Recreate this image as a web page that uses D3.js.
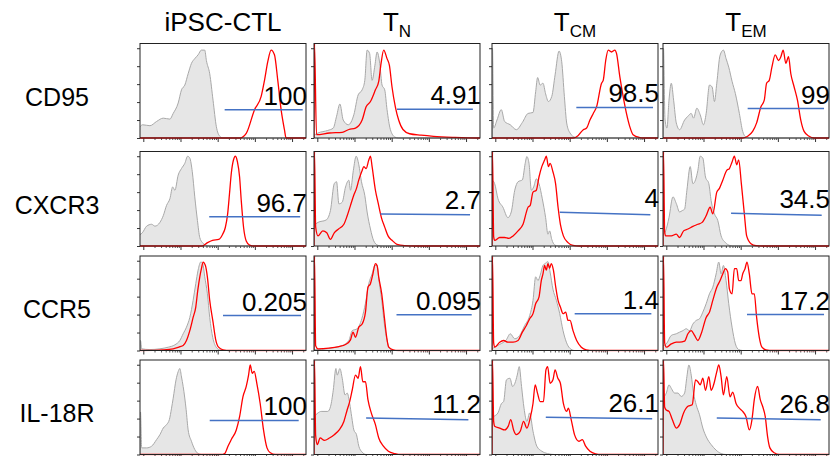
<!DOCTYPE html>
<html>
<head>
<meta charset="utf-8">
<script src="https://cdn.jsdelivr.net/npm/d3@7"></script>
<style>
  body { margin: 0; background: #fff; }
  text { font-family: "Liberation Sans", Arial, sans-serif; fill: #000; }
</style>
</head>
<body>
<svg id="chart" width="837" height="456"></svg>
<script>
// populations (columns) and markers (rows)
var populations = ['iPSC-CTL', 'T_N', 'T_CM', 'T_EM'];
var markers = ['CD95', 'CXCR3', 'CCR5', 'IL-18R'];

// % positive in the gate, one row per marker
var gateLabels = [
  ['100', '4.91', '98.5', '99'],
  ['96.7', '2.7', '4', '34.5'],
  ['0.205', '0.095', '1.4', '17.2'],
  ['100', '11.2', '26.1', '26.8']
];

// gate bars: [x start, x end, height at start, height at end] (axis units, % of mode)
var gates = [
  [[51, 98, 30, 30], [50, 95.7, 30.5, 30.5], [50.8, 97, 32.3, 32.3], [51, 97, 31.2, 31.2]],
  [[41.7, 96.5, 31, 31], [40, 94, 33.9, 33.2], [40.8, 95.4, 35.7, 33.2], [41, 95.6, 34.6, 32.5]],
  [[50, 97, 37, 37], [49.7, 95, 37.8, 37.8], [49.8, 96, 38.9, 38.9], [50.6, 97, 38, 38]],
  [[42, 95.6, 36, 36], [31.4, 93, 38.6, 36.8], [32.4, 96.5, 39.3, 37.9], [32.4, 95, 38.6, 36.8]]
];

// histograms, [fluorescence (0-100 of axis), % of mode]; one entry per population
var cd95Grey = [
  [[0,12],[1.6,14],[6,13],[10,17.5],[14,21],[18,20],[20,26],[23,37],[25,51],[27,56],[29,68],[31,79],[33,84],[35,88],[37,93],[39,93],[40,82],[42,68],[44,40],[46,12],[48,2],[50,0],[100,0]],
  [[0,3],[2.4,5.3],[8.3,8],[11.6,10.5],[13.6,23],[15.6,36],[17.6,19],[20.7,14],[24,24.6],[26.6,45.6],[29,51],[30.6,61],[32,93],[33.5,89.5],[35,61],[36.7,77],[38,91],[39.6,79],[41,56],[42.6,51],[44,30],[46,9],[48.7,1],[50.7,0],[100,0]],
  [[0,0],[0.3,95],[1,10.5],[3,19],[5.6,30],[7.6,17.5],[11,14],[14.7,8.8],[18.3,16.5],[21.7,26],[24.7,27],[26.3,49],[27.5,64],[29,56],[30.7,58],[32.3,46.7],[34,38.6],[36,44],[38,66.7],[40.4,92],[42,80.7],[43.6,44],[45,15.8],[47,5.3],[50,0.7],[52,0],[100,0]],
  [[0,0],[0.3,95],[1.2,20],[2.4,10.5],[3.6,40],[5,58],[6.4,40],[8,16],[10,8.8],[13,19],[15,23],[17,26],[18.4,21],[20.4,31.6],[22.4,24.6],[24.4,14],[26,26],[28,56],[29.6,54],[31,38.6],[32.4,58],[34.4,87.7],[36.4,93],[38,84],[39.6,75],[41.6,60],[43.6,47],[46,26],[48,7],[50,1],[52,0],[100,0]]
];
var cd95Red = [
  [[0,0],[60,0],[64,5],[69,30],[73,44],[75,61],[77,81],[79,93],[81,88],[83,61],[85,30],[87,9],[88,0],[100,0]],
  [[0,0],[0.3,100],[1.5,3.5],[9.3,5.3],[17,6],[21,9],[25,10.5],[29,19],[31.4,33],[34,38.6],[37,51],[39,60],[40.4,79],[42,93],[44,84],[45.4,77],[47,54],[49,33],[51,19],[53.6,9],[57.6,4.5],[64.5,3],[72,1.8],[84,0.7],[98,0],[100,0]],
  [[0,0],[48.8,0],[51.8,2.5],[55,8.8],[57,10.5],[59,19],[61,26],[63,33],[66,58],[67,61],[68.5,82],[70,93],[72,91],[74,93],[75,89.5],[77,65],[79,44],[81,26],[83,12],[85,3.5],[89,0.5],[91,0],[100,0]],
  [[0,0],[48,0],[51,1.8],[54,7],[56.4,16],[59,33],[61,40],[62.4,58],[64,61],[65.6,75],[67.6,88],[69.6,82],[71,86],[72.4,93],[74,79],[75.6,86],[77,68],[79,54],[81,40],[83,19],[85,7],[88,1.8],[91,0],[100,0]]
];
var cxcr3Grey = [
  [[0,12],[1.4,14],[4,21],[7,23],[9,21],[12,25],[14,32],[16,43],[18,50],[19.7,62.5],[21,59],[23,75],[25,82],[27,87.5],[28.7,95],[30,93],[31.5,78.6],[33,52],[34.6,27],[36,9],[37.6,3.6],[39.6,1],[41.7,0],[100,0]],
  [[0,22],[2.4,25],[7.3,27.5],[9.9,37.5],[12.2,66],[13.6,68],[15,44.6],[17,46.4],[19,62.5],[21,69.6],[22,59],[23.7,80],[25.4,95],[27,86],[28.6,68],[30.6,53.6],[32,36],[34,18],[36,5.4],[38.5,0.7],[41,0],[100,0]],
  [[0,70],[1.6,66],[3.6,50],[6.6,41],[9.6,30],[11.6,36],[13.7,59],[15.7,68],[18.3,70],[20,87.5],[21,94.6],[22.3,87.5],[23.7,59],[25.1,62.5],[26.7,71],[28.3,66],[30.3,50],[32.3,30],[33.7,12.5],[34.7,16],[36,7],[37.8,1],[39.8,0],[100,0]],
  [[0,12],[1.6,16],[3.6,30],[6,52],[8,45],[10,36],[11.6,37.5],[13,39],[14.4,59],[16.4,84],[18,66],[19.6,70],[21,80],[22.4,95],[24,93],[25.6,73],[27.6,66],[29,48],[31,34],[33,27],[35,10.7],[37.6,3.6],[40,0.7],[42,0],[100,0]]
];
var cxcr3Red = [
  [[0,0],[37.6,0],[40.7,3.6],[43.7,6],[47.4,7],[49.8,12.5],[51.4,19.6],[52.8,34],[53.9,55],[55,77],[56.3,91],[57.5,95],[58.7,89],[60,73],[61,48],[62.4,19.6],[64,5.4],[66,1],[69,0],[100,0]],
  [[0,0],[0.3,100],[1,20],[2.4,10.7],[5.3,16],[7.7,14],[9.9,7],[12.2,14],[14.8,18],[18,23],[20,32],[22,43],[24,54],[25.6,61],[27,70],[29,80],[30,84],[31.4,82],[33,91],[34,95],[35,84],[37,59],[38.7,45],[40.6,30],[42.6,20],[44.6,10.7],[47,6],[50,1.8],[54.6,0.4],[60.5,0],[100,0]],
  [[0,0],[0.3,100],[1,10],[1.6,6],[4.6,9],[7.6,9],[10.2,8],[12.7,10.7],[15.7,16],[18.7,23],[21.7,41],[23,43],[24.7,57],[26.7,59],[28.3,73],[30,84],[31.7,91],[32.7,95],[34,84],[35,87.5],[36.7,78.6],[38.3,66],[39.8,41],[41.2,23],[43,10.7],[45.8,3.6],[48.8,0.7],[52.8,0],[100,0]],
  [[0,0],[0.3,100],[1,15],[1.6,10.7],[5,10.7],[8,12.5],[10,9],[12.4,16],[15,18],[18,20.7],[21,23],[23.6,25],[26,32],[28.4,41],[30,34],[32.4,57],[34,61],[36,69.6],[38.4,80],[40,82],[41.6,89],[43,95],[44.4,86],[45.6,91],[47.2,66],[49,34],[50.4,10.7],[53,2.5],[56,0.4],[60,0],[100,0]]
];
var ccr5Grey = [
  [[0,0],[0.3,10.6],[1,1.8],[6,1],[12,1.8],[17,3.5],[21,6],[24,10.6],[26,17.7],[28,24.7],[30,35],[32,53],[33.6,70.7],[35,85],[36.6,93.6],[37.8,92],[39,78],[40.6,60],[42,35],[43.8,14],[45.9,3.5],[48,0.7],[52,0],[100,0]],
  [[0,1],[2.4,1],[11,2.8],[17,5.3],[21,10.6],[23,21],[26,23],[28.8,33.6],[31,50],[33,70.7],[35,81],[36.7,90],[38,90],[39,76],[40.8,53],[42.4,28],[44,10.6],[45.8,1.8],[48.7,0],[100,0]],
  [[0,2],[1.6,3.5],[4.6,6.4],[8.6,11.3],[11,17.7],[13.7,12.4],[16.7,16],[19.7,26.5],[22.7,37],[24.7,53],[26.3,78],[27.7,74],[29,79.5],[30.7,90],[32,92],[33.7,94],[35,83],[36.7,65],[38.8,53],[40.8,39],[42.8,21],[44.8,8.8],[46.8,2.5],[49.8,0],[100,0]],
  [[0,5],[2,7],[5,16],[8,17.7],[10,19.4],[12,21],[14,23],[16,21],[18,28],[20,31.8],[22,33.6],[24,40.6],[26,49.5],[28,60],[30,67],[32,81],[33.6,93.6],[35,81],[36.4,90],[38,74],[39.6,49.5],[41.6,24.7],[43.6,7],[45.6,1],[48,0],[100,0]]
];
var ccr5Red = [
  [[0,0],[14,0.7],[20,1.8],[24,4],[26,5.3],[28,10.6],[30,21],[32,35],[33.6,46],[34.8,63.6],[36,77.7],[37,86.6],[38,93.6],[39.4,90],[40.6,77.7],[42,53],[44,30],[45.5,12.4],[47.3,3.5],[50,0.7],[54,0],[100,0]],
  [[0,0],[0.3,100],[1,5],[2.4,1.8],[9,2.5],[15,4.2],[19,6.4],[22,11.3],[23.5,19.4],[25,14],[27,24.7],[29,28],[31,40.6],[32.5,67],[34,70.7],[35.3,79.5],[37,92],[38,90],[39,77.7],[40.8,60],[42.4,35],[43.8,14],[45,3.5],[47.7,0.7],[50.7,0],[100,0]],
  [[0,0],[0.3,100],[1,8],[1.6,3.5],[4.6,8.8],[7,10.6],[9.6,8.8],[12.7,8.8],[15.7,10.6],[18.3,19.4],[20.7,26.5],[22.7,33.6],[24.7,39],[26.3,49.5],[28.3,56.5],[29.7,74],[30.7,81],[31.7,90],[32.7,85],[33.7,92],[34.7,87],[35.7,92],[37,85],[38.4,67],[39.8,53],[41.2,46],[42.8,39],[44.4,40.6],[45.8,31.8],[47,31.8],[48.8,21],[51,10.6],[53.8,3.5],[56.8,0.7],[61,0],[100,0]],
  [[0,0],[0.3,100],[1,8],[2,3.5],[5,7],[8,8.8],[10,8.8],[13,9.9],[15,17.7],[17,21],[19,16],[21,10.6],[23,17.7],[26,35],[28,40.6],[30,53],[32.4,67],[34.4,74],[36,81],[37.6,86.6],[39,83],[40,65],[41.6,60],[43,86.6],[44.4,86.6],[45.6,74],[47,74],[48,81],[49.4,86.6],[50.6,93.6],[52,81],[53.6,60],[55,60],[56.4,35],[58,14],[59.6,3.5],[62,0.7],[66,0],[100,0]]
];
var il18rGrey = [
  [[0,0],[0.3,45],[1,7],[4,7],[7,8.8],[10,15.8],[12,21],[14,28],[16,31.6],[17.7,37],[19,49],[20,59.6],[21.7,79],[23,87.7],[24,91],[25,82],[26,72],[27.8,47.4],[29,26],[31,14],[33,5.3],[35,1],[37,0],[100,0]],
  [[0,40],[2.4,44],[4.3,45.6],[8.3,45.6],[10,51],[11.6,68],[13.2,91],[14,84],[15.6,91],[17,80.7],[18.7,63],[20,65],[21.5,54],[22.7,40],[24,26],[25.6,21],[27,8.8],[29,2.5],[31.4,0],[100,0]],
  [[0,38],[1,40],[3.6,44],[5.7,54],[7,56],[8.7,79],[10.8,80.7],[12.4,72],[13.8,75.4],[15.2,84],[16.4,93],[17.8,72],[19.3,49],[21,35],[22.7,44],[24.7,24.6],[27,8.8],[30,3.5],[33.4,1],[37.5,0],[100,0]],
  [[0,60],[2,65],[3.6,73.7],[5,70],[7,65],[9,65],[11,61.4],[13,65],[14.4,82.5],[15.6,94.7],[17,84],[18.4,65],[20,52.6],[22,42],[24,28],[26.4,17.5],[29,10.5],[32,4.6],[35,1],[38,0],[100,0]]
];
var il18rRed = [
  [[0,0],[49,0],[51,1],[53,8.8],[55,15.8],[58,26],[60,40],[62,61],[64,72],[65.4,84],[66.4,94.7],[67.6,86],[68.8,88],[70.4,75],[72.4,54],[74.4,26],[76.5,7],[78.5,1.8],[81.5,0],[100,0]],
  [[0,0],[0.3,100],[1,20],[2,10.5],[3.7,17.5],[6.3,15],[9.3,17.5],[12.2,21],[15.2,26],[18,35],[20,47.4],[21.5,56],[23,68],[25,84],[26.6,80.7],[28,93],[29.4,77],[31,77],[32.5,58],[34.5,44],[37,31.6],[39,17.5],[41.8,8.8],[44.8,3.5],[48.7,1],[52.7,0],[100,0]],
  [[0,0],[0.3,100],[1,35],[1.6,30],[4.6,28],[7.7,26],[9.8,30],[11.3,37],[13,26],[14.6,21],[17,24.6],[19,35],[21,28],[23,38.6],[24.7,54],[26,73.7],[27.4,65],[29,56],[31,56],[32.5,89.5],[33.5,93],[35,75.4],[36.7,79],[38,89.5],[39.6,81],[41.2,75.4],[43,54],[45,45.6],[46,49],[47.7,37],[49.7,21],[52.3,14],[54.4,15.8],[56.4,8.8],[59,3.5],[62.5,0.7],[65.5,0],[100,0]],
  [[0,0],[0.3,100],[1,50],[2,47],[3.6,45.6],[5.6,37],[8,28],[10,31.6],[12.4,44],[15,51],[17.6,52.6],[19.6,79],[21,77],[22.4,73.7],[24,80.7],[25.6,68],[27.6,82.5],[29,68],[31,77],[32.4,87.7],[33.6,94.7],[35,82.5],[36.4,63],[38.4,82.5],[40.4,61],[42,66],[44,54],[46,49],[48,45.6],[50,40],[52,26],[53.6,37],[55,58],[57,72],[58.6,58],[60,51],[61.6,40],[63,19],[64.4,7],[67,1.8],[70,0],[100,0]]
];

var greyByRow = [cd95Grey, cxcr3Grey, ccr5Grey, il18rGrey];
var redByRow = [cd95Red, cxcr3Red, ccr5Red, il18rRed];

(function() {
  'use strict';

  var svg = d3.select('#chart');
  var colLeft = [140, 314, 492, 663];
  var rowTop = [43.5, 151.5, 256, 360];
  var panelW = 166, panelH = 94.5;

  var x = d3.scaleLinear().domain([0, 100]).range([0, panelW]);
  var y = d3.scaleLinear().domain([0, 100]).range([panelH, 0]);
  // log decades for the bottom tick marks
  var xLog = d3.scaleLog().domain([Math.pow(10, 0.911), Math.pow(10, 5.375)]).range([0, panelW]);
  var majorTicks = [10, 100, 1000, 10000, 100000];
  var minorTicks = [];
  majorTicks.forEach(function(d) {
    for (var k = 2; k < 10; k++) {
      if (d * k < xLog.domain()[1]) { minorTicks.push(d * k); }
    }
  });

  var area = d3.area()
    .x(function(d) { return x(d[0]); })
    .y0(y(0))
    .y1(function(d) { return y(d[1]); })
    .curve(d3.curveMonotoneX);
  var line = d3.line()
    .x(function(d) { return x(d[0]); })
    .y(function(d) { return y(d[1]); })
    .curve(d3.curveMonotoneX);

  // column headers
  populations.forEach(function(p, c) {
    var parts = p.split('_');
    var t = svg.append('text')
      .attr('x', colLeft[c] + panelW / 2)
      .attr('y', 31)
      .attr('text-anchor', 'middle')
      .style('font-size', '26px')
      .text(parts[0]);
    if (parts[1]) {
      t.append('tspan')
        .attr('dy', 6)
        .style('font-size', '17px')
        .text(parts[1]);
    }
  });

  // row labels
  markers.forEach(function(m, r) {
    svg.append('text')
      .attr('x', 57)
      .attr('y', rowTop[r] + panelH / 2 + 15)
      .attr('text-anchor', 'middle')
      .style('font-size', '25px')
      .text(m);
  });

  markers.forEach(function(m, r) {
    populations.forEach(function(p, c) {
      var g = svg.append('g')
        .attr('transform', 'translate(' + colLeft[c] + ',' + rowTop[r] + ')');
      var clipId = 'clip-' + r + '-' + c;

      g.append('clipPath').attr('id', clipId)
        .append('rect')
        .attr('x', 0).attr('y', -1)
        .attr('width', panelW).attr('height', panelH + 2);

      // axes
      g.append('g')
        .call(d3.axisLeft(y).tickValues([0, 19, 38, 57, 76, 95]).tickSize(3).tickFormat(''))
        .call(function(a) { a.select('.domain').remove(); a.selectAll('line').attr('stroke', '#333'); });
      g.append('g')
        .attr('transform', 'translate(0,' + panelH + ')')
        .call(d3.axisBottom(xLog).tickValues(minorTicks).tickSize(2).tickFormat(''))
        .call(function(a) { a.select('.domain').remove(); a.selectAll('line').attr('stroke', '#555'); });
      g.append('g')
        .attr('transform', 'translate(0,' + panelH + ')')
        .call(d3.axisBottom(xLog).tickValues(majorTicks).tickSize(4).tickFormat(''))
        .call(function(a) { a.select('.domain').remove(); a.selectAll('line').attr('stroke', '#333'); });

      var plot = g.append('g').attr('clip-path', 'url(#' + clipId + ')');
      var grey = greyByRow[r][c];
      var red = redByRow[r][c];

      plot.append('path')
        .datum(grey)
        .attr('d', area)
        .attr('fill', '#e6e6e6');
      plot.append('path')
        .datum(grey)
        .attr('d', line)
        .attr('fill', 'none')
        .attr('stroke', '#a8a8a8')
        .attr('stroke-width', 1);
      plot.append('path')
        .datum(red)
        .attr('d', line)
        .attr('fill', 'none')
        .attr('stroke', '#ff0000')
        .attr('stroke-width', 1.3);

      var gate = gates[r][c];
      g.append('line')
        .attr('x1', x(gate[0])).attr('x2', x(gate[1]))
        .attr('y1', y(gate[2])).attr('y2', y(gate[3]))
        .attr('stroke', '#4472c4')
        .attr('stroke-width', 1.5);

      g.append('rect')
        .attr('width', panelW).attr('height', panelH)
        .attr('fill', 'none')
        .attr('stroke', '#222')
        .attr('stroke-width', 1);

      g.append('text')
        .attr('x', panelW + 1)
        .attr('y', y(Math.max(gate[2], gate[3])) - 5)
        .attr('text-anchor', 'end')
        .style('font-size', '26px')
        .text(gateLabels[r][c]);
    });
  });
})();
</script>
</body>
</html>
